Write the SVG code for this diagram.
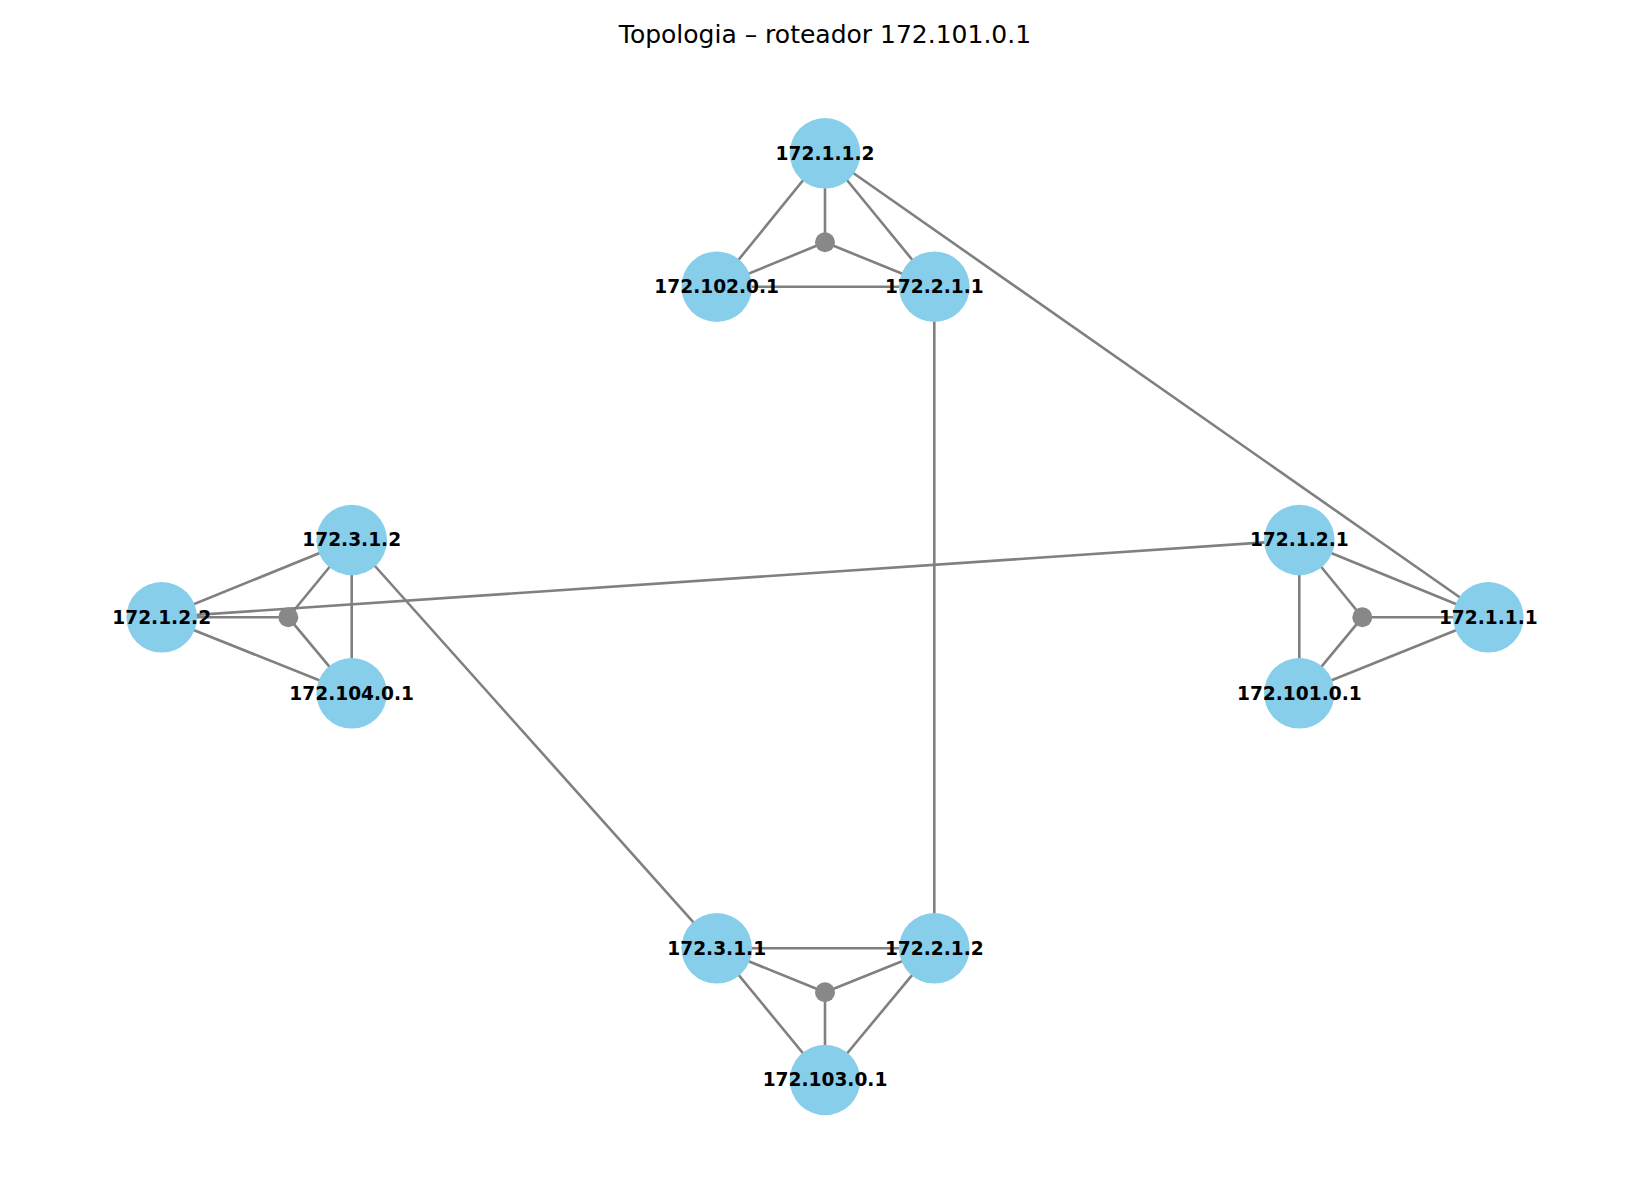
<svg xmlns="http://www.w3.org/2000/svg" width="1650" height="1200" viewBox="0 0 1650 1200">
<style>
.e{stroke:#808080;stroke-width:2.6;fill:none}
.n{fill:#87CEEB}
.h{fill:#888888}
.l{font-family:"DejaVu Sans",sans-serif;font-weight:bold;font-size:18.6px;text-anchor:middle;fill:#000}
.t{font-family:"DejaVu Sans",sans-serif;font-size:25px;text-anchor:middle;fill:#000}
</style>
<rect width="1650" height="1200" fill="#fff"/>
<text class="t" x="825" y="43.3">Topologia – roteador 172.101.0.1</text>
<g id="edges">
<line class="e" x1="825" y1="153.3" x2="716.7" y2="286.7"/>
<line class="e" x1="825" y1="153.3" x2="825" y2="242.3"/>
<line class="e" x1="825" y1="153.3" x2="934.3" y2="286.7"/>
<line class="e" x1="716.7" y1="286.7" x2="825" y2="242.3"/>
<line class="e" x1="934.3" y1="286.7" x2="825" y2="242.3"/>
<line class="e" x1="716.7" y1="286.7" x2="934.3" y2="286.7"/>
<line class="e" x1="825" y1="153.3" x2="1488.3" y2="617.3"/>
<line class="e" x1="934.3" y1="286.7" x2="934.3" y2="948.3"/>
<line class="e" x1="351.7" y1="540" x2="161.7" y2="617.3"/>
<line class="e" x1="351.7" y1="540" x2="288.3" y2="617.3"/>
<line class="e" x1="351.7" y1="540" x2="351.7" y2="693.3"/>
<line class="e" x1="161.7" y1="617.3" x2="288.3" y2="617.3"/>
<line class="e" x1="161.7" y1="617.3" x2="351.7" y2="693.3"/>
<line class="e" x1="351.7" y1="693.3" x2="288.3" y2="617.3"/>
<line class="e" x1="161.7" y1="617.3" x2="1299.3" y2="540"/>
<line class="e" x1="351.7" y1="540" x2="716.7" y2="948.3"/>
<line class="e" x1="1299.3" y1="540" x2="1362.3" y2="617.3"/>
<line class="e" x1="1299.3" y1="540" x2="1488.3" y2="617.3"/>
<line class="e" x1="1299.3" y1="540" x2="1299.3" y2="693.3"/>
<line class="e" x1="1488.3" y1="617.3" x2="1362.3" y2="617.3"/>
<line class="e" x1="1299.3" y1="693.3" x2="1362.3" y2="617.3"/>
<line class="e" x1="1299.3" y1="693.3" x2="1488.3" y2="617.3"/>
<line class="e" x1="716.7" y1="948.3" x2="934.3" y2="948.3"/>
<line class="e" x1="716.7" y1="948.3" x2="825" y2="992.3"/>
<line class="e" x1="934.3" y1="948.3" x2="825" y2="992.3"/>
<line class="e" x1="716.7" y1="948.3" x2="825" y2="1080"/>
<line class="e" x1="934.3" y1="948.3" x2="825" y2="1080"/>
<line class="e" x1="825" y1="992.3" x2="825" y2="1080"/>
</g>
<g id="hub-top"><circle class="h" cx="825" cy="242.3" r="10"/></g>
<g id="hub-left"><circle class="h" cx="288.3" cy="617.3" r="10"/></g>
<g id="hub-right"><circle class="h" cx="1362.3" cy="617.3" r="10"/></g>
<g id="hub-bottom"><circle class="h" cx="825" cy="992.3" r="10"/></g>
<g id="n-172.1.1.2"><circle class="n" cx="825" cy="153.3" r="35.3"/><text class="l" x="825" y="159.6">172.1.1.2</text></g>
<g id="n-172.102.0.1"><circle class="n" cx="716.7" cy="286.7" r="35.3"/><text class="l" x="716.7" y="293">172.102.0.1</text></g>
<g id="n-172.2.1.1"><circle class="n" cx="934.3" cy="286.7" r="35.3"/><text class="l" x="934.3" y="293">172.2.1.1</text></g>
<g id="n-172.3.1.2"><circle class="n" cx="351.7" cy="540" r="35.3"/><text class="l" x="351.7" y="546.3">172.3.1.2</text></g>
<g id="n-172.1.2.2"><circle class="n" cx="161.7" cy="617.3" r="35.3"/><text class="l" x="161.7" y="623.6">172.1.2.2</text></g>
<g id="n-172.104.0.1"><circle class="n" cx="351.7" cy="693.3" r="35.3"/><text class="l" x="351.7" y="699.6">172.104.0.1</text></g>
<g id="n-172.1.2.1"><circle class="n" cx="1299.3" cy="540" r="35.3"/><text class="l" x="1299.3" y="546.3">172.1.2.1</text></g>
<g id="n-172.1.1.1"><circle class="n" cx="1488.3" cy="617.3" r="35.3"/><text class="l" x="1488.3" y="623.6">172.1.1.1</text></g>
<g id="n-172.101.0.1"><circle class="n" cx="1299.3" cy="693.3" r="35.3"/><text class="l" x="1299.3" y="699.6">172.101.0.1</text></g>
<g id="n-172.3.1.1"><circle class="n" cx="716.7" cy="948.3" r="35.3"/><text class="l" x="716.7" y="954.6">172.3.1.1</text></g>
<g id="n-172.2.1.2"><circle class="n" cx="934.3" cy="948.3" r="35.3"/><text class="l" x="934.3" y="954.6">172.2.1.2</text></g>
<g id="n-172.103.0.1"><circle class="n" cx="825" cy="1080" r="35.3"/><text class="l" x="825" y="1086.3">172.103.0.1</text></g>
</svg>
